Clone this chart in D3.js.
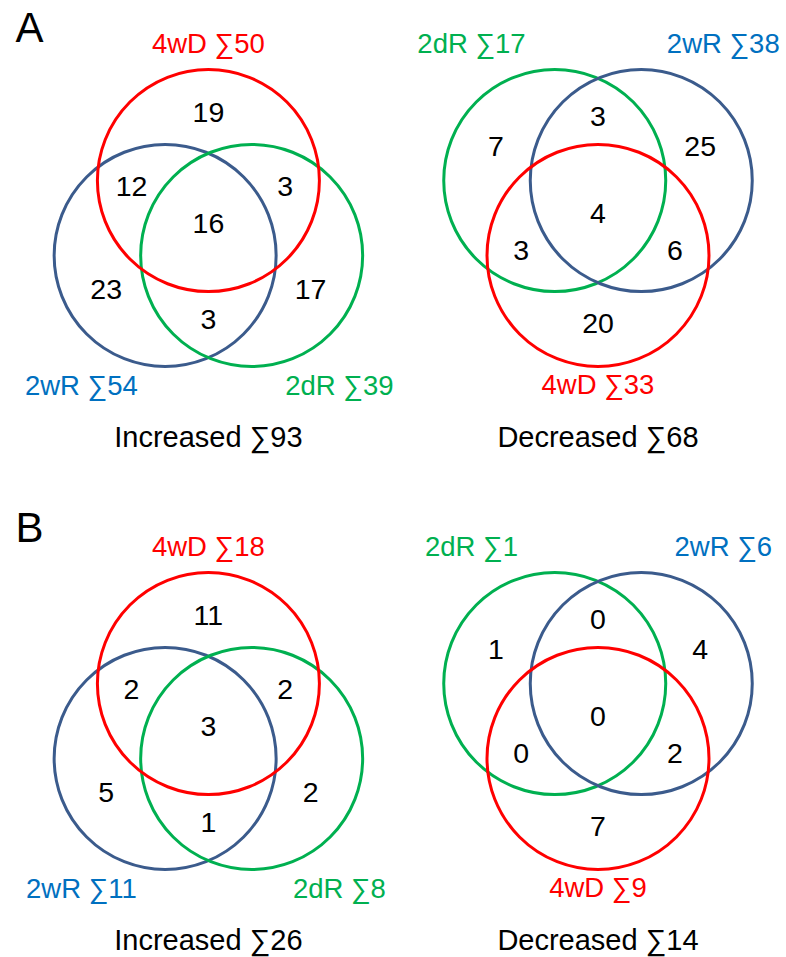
<!DOCTYPE html>
<html>
<head>
<meta charset="utf-8">
<script src="https://cdn.jsdelivr.net/npm/d3@7"></script>
<style>
  html, body { margin: 0; padding: 0; background: #fff; }
  svg { display: block; font-family: "Liberation Sans", Arial, sans-serif; }
</style>
</head>
<body>
<svg id="chart" width="786" height="957"></svg>
<script>
// ---------- data ----------
const setNames = ["4wD", "2wR", "2dR"];
const panelLetters = ["A", "B"];
const directionNames = ["Increased", "Decreased"];
// region order: 4wD only, 2wR only, 2dR only, 4wD∩2wR, 4wD∩2dR, 2wR∩2dR, all three
const regionSets = [[0], [1], [2], [0, 1], [0, 2], [1, 2], [0, 1, 2]];
const countsAIncreased = [19, 23, 17, 12, 3, 3, 16];
const countsADecreased = [20, 25, 7, 6, 3, 3, 4];
const countsBIncreased = [11, 5, 2, 2, 2, 1, 3];
const countsBDecreased = [7, 4, 1, 2, 0, 0, 0];

// ---------- styles / layout ----------
const strokeColors = ["#ff0000", "#3b5b8c", "#00b050"];
const textColors = ["#ff0000", "#0070c0", "#00b050"];
const panelCenterX = [208.4, 598];       // Increased, Decreased columns
const rowBoxMid = [218, 721];            // rows A, B
const letterBaseline = [42, 542];
const radiusPx = 111;
// direction angle of each set circle from the panel centroid (degrees, svg coords)
const circleAngles = [[-90, 150, 30], [90, -30, 210]];
// set label offsets (px, baseline, from centroid)
const labelOffsets = [
  [[0, -177.6], [-127, 164], [131, 164]],
  [[0, 188.2], [125.3, -152.3], [-126.5, -152.3]]
];

const svg = d3.select("#chart");
const unit = d3.scaleLinear().domain([0, 1]).range([0, radiusPx]);

const allCounts = [[countsAIncreased, countsADecreased], [countsBIncreased, countsBDecreased]];

function vec(deg, len) {
  const a = deg * Math.PI / 180;
  return [Math.cos(a) * len, Math.sin(a) * len];
}

allCounts.forEach((rowCounts, row) => {
  svg.append("text")
    .attr("x", 15.5)
    .attr("y", letterBaseline[row])
    .attr("font-size", 42)
    .attr("fill", "#000")
    .text(panelLetters[row]);

  rowCounts.forEach((counts, col) => {
    const up = col === 0;
    const cx = panelCenterX[col];
    const cy = rowBoxMid[row] + (up ? 12.5 : -12.5);
    const xs = d3.scaleLinear().domain([-1, 1]).range([cx - radiusPx, cx + radiusPx]);
    const ys = d3.scaleLinear().domain([-1, 1]).range([cy - radiusPx, cy + radiusPx]);
    const angles = circleAngles[col];

    const g = svg.append("g");

    const circles = setNames.map((name, i) => {
      const [u, v] = vec(angles[i], 0.45);
      const total = d3.sum(regionSets.map((s, k) => s.includes(i) ? counts[k] : 0));
      return { i, name, u, v, total };
    });
    const order = up ? [1, 2, 0] : [2, 1, 0];
    g.selectAll("circle.set")
      .data(order.map(k => circles[k]))
      .join("circle")
      .attr("class", "set")
      .attr("cx", d => xs(d.u))
      .attr("cy", d => ys(d.v))
      .attr("r", unit(1))
      .attr("fill", "none")
      .attr("stroke", d => strokeColors[d.i])
      .attr("stroke-width", 3);

    const regions = regionSets.map((s, k) => {
      let u, v;
      if (s.length === 1) {
        [u, v] = vec(angles[s[0]], 1.063);
      } else if (s.length === 2) {
        const other = [0, 1, 2].find(j => !s.includes(j));
        [u, v] = vec(angles[other] + 180, 0.80);
      } else {
        [u, v] = vec(angles[0], 0.068);
      }
      return { u, v, value: counts[k] };
    });
    g.selectAll("text.count")
      .data(regions)
      .join("text")
      .attr("class", "count")
      .attr("x", d => xs(d.u))
      .attr("y", d => ys(d.v))
      .attr("dy", "0.34em")
      .attr("text-anchor", "middle")
      .attr("font-size", 28.5)
      .attr("fill", "#000")
      .text(d => d.value);

    g.selectAll("text.setlabel")
      .data(circles)
      .join("text")
      .attr("class", "setlabel")
      .attr("x", d => xs(unit.invert(labelOffsets[col][d.i][0])) - xs(0) + cx)
      .attr("y", d => ys(unit.invert(labelOffsets[col][d.i][1])) - ys(0) + cy)
      .attr("text-anchor", "middle")
      .attr("font-size", 27.5)
      .attr("fill", d => textColors[d.i])
      .text(d => `${d.name} \u2211${d.total}`);

    g.append("text")
      .attr("x", cx)
      .attr("y", rowBoxMid[row] + 229)
      .attr("text-anchor", "middle")
      .attr("font-size", 29)
      .attr("fill", "#000")
      .text(`${directionNames[col]} \u2211${d3.sum(counts)}`);
  });
});
</script>
</body>
</html>
